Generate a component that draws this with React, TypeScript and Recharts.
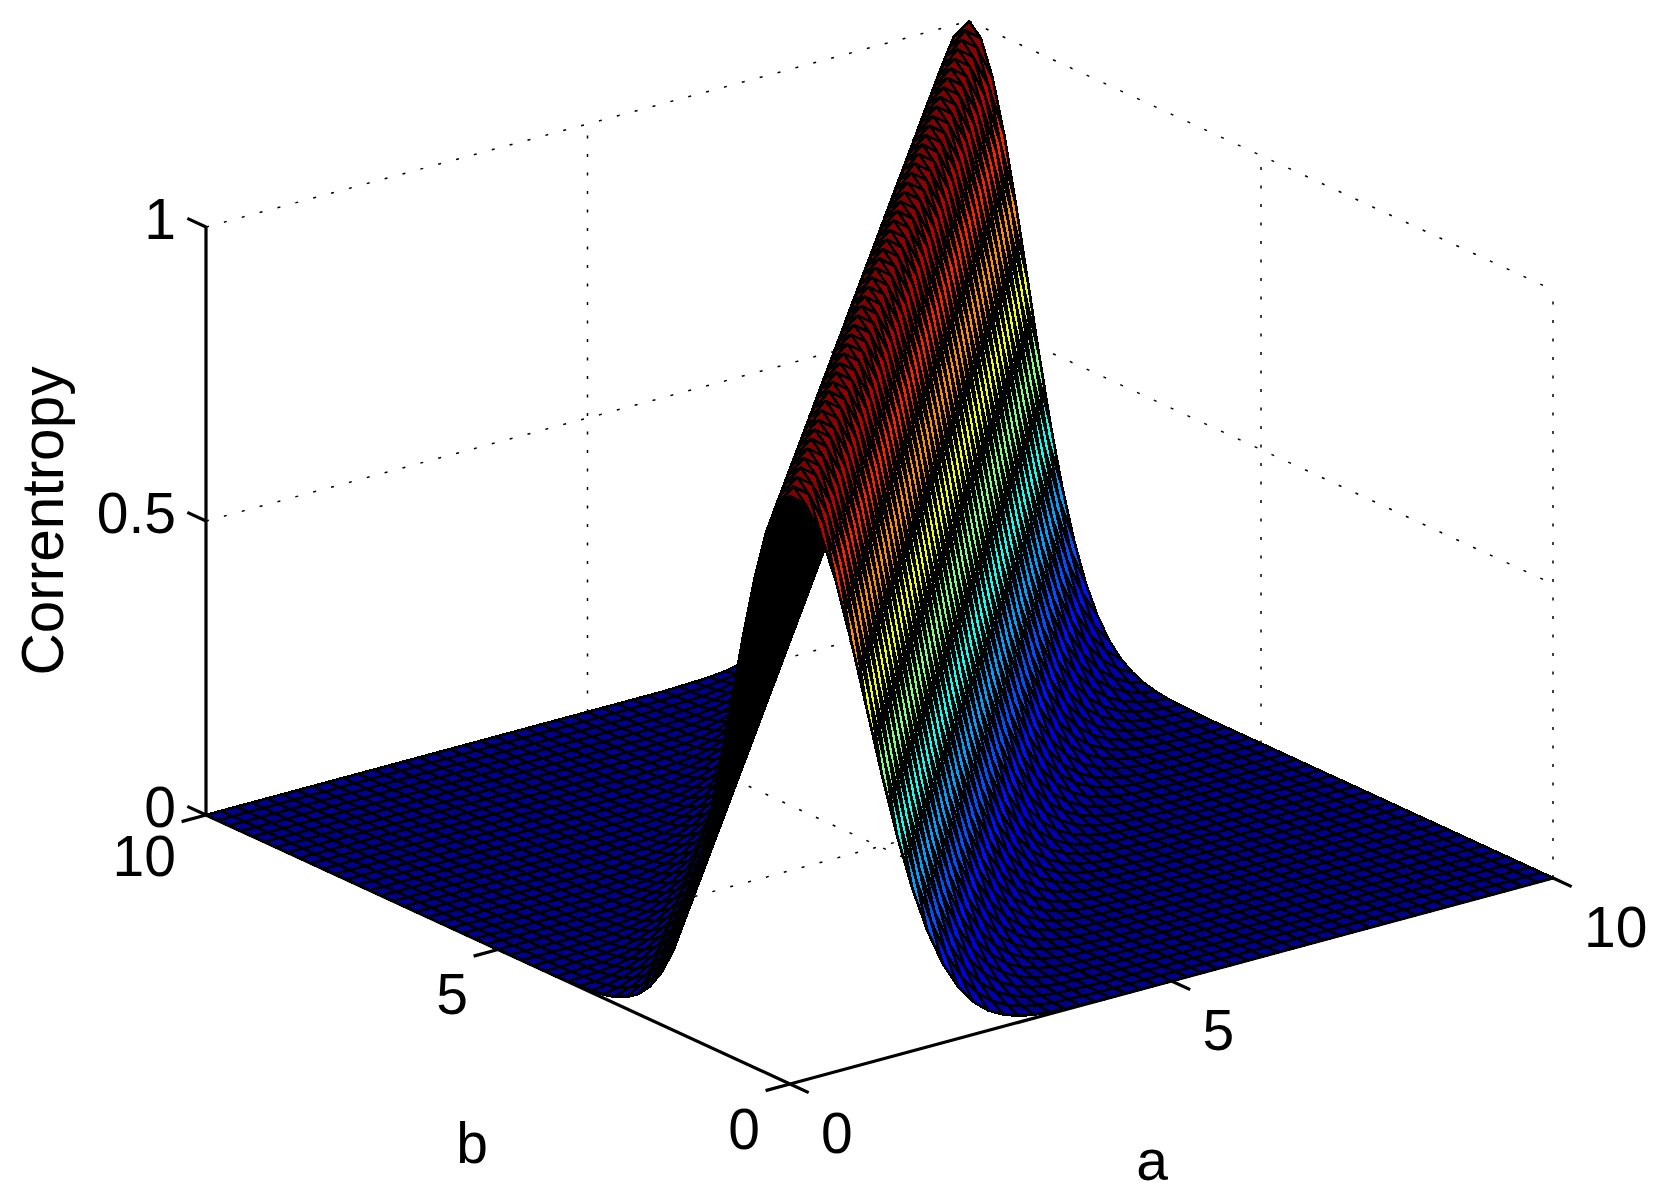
import { ComposedChart, Scatter, XAxis, YAxis } from "recharts"

const WIDTH = 1662
const HEIGHT = 1193

// mesh nodes along a and along b
const gridValues = [
  0, 0.2, 0.4, 0.6, 0.8, 1, 1.2, 1.4, 1.6, 1.8, 2, 2.2, 2.4, 2.6, 2.8, 3, 3.2, 3.4, 3.6, 3.8, 4, 4.2, 4.4, 4.6, 4.8, 5,
  5.2, 5.4, 5.6, 5.8, 6, 6.2, 6.4, 6.6, 6.8, 7, 7.2, 7.4, 7.6, 7.8, 8, 8.2, 8.4, 8.6, 8.8, 9, 9.2, 9.4, 9.6, 9.8, 10,
]
// height across the ridge, one entry per mesh step away from a = b; flat floor after that
const ridgeProfile = [
  1, 0.98, 0.923, 0.835, 0.726, 0.607, 0.487, 0.375, 0.278, 0.198, 0.135, 0.089, 0.056, 0.034, 0.02, 0.011, 0.006,
  0.003, 0.002, 0.001,
]
const aTicks = [0, 5, 10]
const bTicks = [0, 5, 10]
const zTicks = [0, 0.5, 1]

// where the 3d box lands on the page (orthographic view)
const ORIGIN = { x: 790, y: 1084 }
const A_STEP = { x: 76.3, y: -20.6 }
const B_STEP = { x: -58.4, y: -26.9 }
const Z_SPAN = 588

const TICK_LEN = 0.32
const FONT = "'Liberation Sans', Arial, sans-serif"
const FONT_SIZE = 57

function project(a: number, b: number, z: number) {
  return {
    x: ORIGIN.x + a * A_STEP.x + b * B_STEP.x,
    y: ORIGIN.y + a * A_STEP.y + b * B_STEP.y - z * Z_SPAN,
  }
}

// matlab style 64 step jet
function jet(t: number) {
  const idx = Math.min(63, Math.floor(t * 64)) + 1
  const ch = (c: number) => {
    const v = Math.max(0, Math.min(1, 1.5 - Math.abs((4 * idx) / 64 - c)))
    return Math.round(v * 255)
      .toString(16)
      .padStart(2, "0")
  }
  return `#${ch(3)}${ch(2)}${ch(1)}`
}

const height = (i: number, j: number) => ridgeProfile[Math.abs(i - j)] ?? 0

// far corner first so nearer cells paint over the ones behind them
const cells: any[] = []
for (let i = gridValues.length - 2; i >= 0; i--) {
  for (let j = gridValues.length - 2; j >= 0; j--) {
    const corners = [
      project(gridValues[i], gridValues[j], height(i, j)),
      project(gridValues[i + 1], gridValues[j], height(i + 1, j)),
      project(gridValues[i + 1], gridValues[j + 1], height(i + 1, j + 1)),
      project(gridValues[i], gridValues[j + 1], height(i, j + 1)),
    ]
    cells.push({ ...corners[0], corners, fill: jet(height(i, j)) })
  }
}

const seg = (p: number[], q: number[]) => [project(p[0], p[1], p[2]), project(q[0], q[1], q[2])]

const dottedLines = [
  ...zTicks.flatMap((z) => [seg([0, 10, z], [10, 10, z]), seg([10, 10, z], [10, 0, z])]),
  seg([5, 10, 0], [5, 10, 1]),
  seg([10, 10, 0], [10, 10, 1]),
  seg([10, 5, 0], [10, 5, 1]),
  seg([10, 0, 0], [10, 0, 1]),
  seg([5, 0, 0], [5, 10, 0]),
  seg([0, 5, 0], [10, 5, 0]),
]

const solidLines = [
  seg([0, 0, 0], [10, 0, 0]),
  seg([0, 0, 0], [0, 10, 0]),
  seg([0, 10, 0], [0, 10, 1]),
  ...aTicks.map((a) => seg([a, 0, 0], [a, -TICK_LEN, 0])),
  ...bTicks.map((b) => seg([0, b, 0], [-TICK_LEN, b, 0])),
  ...zTicks.map((z) => seg([0, 10, z], [0, 10 + TICK_LEN, z])),
]

const offsetPoint = (p: { x: number; y: number }, dx: number, dy: number) => ({ x: p.x + dx, y: p.y + dy })

const textMarks = [
  ...aTicks.map((a) => ({ ...offsetPoint(project(a, 0, 0), 31, 48), text: String(a), anchor: "start" })),
  ...bTicks.map((b) => ({ ...offsetPoint(project(0, b, 0), -30, b === 10 ? 40 : 44), text: String(b), anchor: "end" })),
  ...zTicks.map((z) => ({ ...offsetPoint(project(0, 10, z), -30, -9), text: String(z), anchor: "end" })),
  { x: 1152, y: 1159, text: "a", anchor: "middle" },
  { x: 472, y: 1142, text: "b", anchor: "middle" },
  { x: 42, y: 521, text: "Correntropy", anchor: "middle", rotate: true, size: 58.5 },
]

function CellShape({ cx, cy, payload }: any) {
  const points = payload.corners
    .map((c: any) => `${(cx + c.x - payload.x).toFixed(2)},${(cy + c.y - payload.y).toFixed(2)}`)
    .join(" ")
  return <polygon points={points} fill={payload.fill} stroke="#000" strokeWidth={2.8} strokeLinejoin="round" shapeRendering="crispEdges" />
}

function TextShape({ cx, cy, payload }: any) {
  const size = payload.size ?? FONT_SIZE
  return (
    <text
      x={cx}
      y={cy}
      dy={size * 0.36}
      textAnchor={payload.anchor}
      fontFamily={FONT}
      fontSize={size}
      fill="#000"
      transform={payload.rotate ? `rotate(-90 ${cx} ${cy})` : undefined}
    >
      {payload.text}
    </text>
  )
}

const NoDot = () => null

export default function App() {
  return (
    <div style={{ position: "absolute", left: 0, top: 0, width: WIDTH, height: HEIGHT, background: "#fff" }}>
      <ComposedChart width={WIDTH} height={HEIGHT} margin={{ top: 0, right: 0, bottom: 0, left: 0 }}>
        <XAxis type="number" dataKey="x" domain={[0, WIDTH]} hide />
        <YAxis type="number" dataKey="y" domain={[0, HEIGHT]} reversed hide />
        {dottedLines.map((line, k) => (
          <Scatter
            key={`dot-${k}`}
            data={line}
            line={{ stroke: "#000", strokeWidth: 1.5, strokeDasharray: "3 15.5" }}
            shape={NoDot}
            isAnimationActive={false}
          />
        ))}
        {solidLines.map((line, k) => (
          <Scatter
            key={`axis-${k}`}
            data={line}
            line={{ stroke: "#000", strokeWidth: 3.2 }}
            shape={NoDot}
            isAnimationActive={false}
          />
        ))}
        <Scatter data={cells} shape={CellShape} isAnimationActive={false} />
        <Scatter data={textMarks} shape={TextShape} isAnimationActive={false} />
      </ComposedChart>
    </div>
  )
}
